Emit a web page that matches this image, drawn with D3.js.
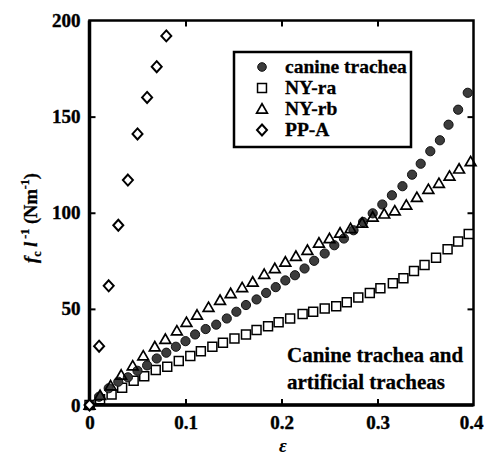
<!DOCTYPE html>
<html><head><meta charset="utf-8">
<script src="https://cdn.jsdelivr.net/npm/d3@7"></script>
<style>
html,body{margin:0;padding:0;background:#fff;}
svg text{font-family:"Liberation Serif","Times New Roman",serif;font-weight:bold;}
</style></head>
<body><svg id="c" width="484" height="458"></svg>
<script>
// ---- data ----
const canineEps = [0,0.01,0.02,0.03,0.04,0.05,0.06,0.07,0.08,0.09,0.10,0.11,0.121,0.132,0.143,0.153,0.163,0.174,0.184,0.194,0.204,0.214,0.224,0.234,0.245,0.255,0.265,0.275,0.285,0.295,0.305,0.315,0.326,0.336,0.345,0.355,0.365,0.374,0.384,0.394];
const canineVal = [0,4.3,8.7,12.1,14.4,17.8,20.6,24.2,27.2,30.3,33.2,36.7,39.5,41.8,45,48.5,52,54.9,58.3,61.3,64.8,67.5,71,75,78.8,83.1,86.6,90.9,95.2,99.7,104.3,109.1,113.8,119.8,125.5,132,137.7,145.8,153.6,162.4];
const nyraEps = [0,0.011,0.023,0.034,0.046,0.057,0.069,0.081,0.093,0.105,0.116,0.128,0.139,0.151,0.163,0.174,0.186,0.197,0.209,0.222,0.233,0.245,0.257,0.268,0.280,0.292,0.303,0.316,0.327,0.338,0.349,0.361,0.373,0.384,0.395];
const nyraVal = [0,3,5.5,9,12.6,15,18.2,19.9,22.9,25.5,28,30.3,32.4,34.6,36.7,39,41,43,45,47.3,48.5,50.2,51.4,53.4,55.9,58.3,60.7,63.3,65.9,69.7,72.8,76.6,81,85,88.9];
const nyrbEps = [0,0.011,0.022,0.033,0.045,0.056,0.068,0.079,0.091,0.101,0.112,0.124,0.136,0.147,0.159,0.170,0.182,0.193,0.204,0.215,0.227,0.239,0.250,0.261,0.272,0.284,0.295,0.307,0.318,0.330,0.341,0.353,0.364,0.375,0.385,0.397];
const nyrbVal = [0,5,10,15.6,20.4,25.6,30.3,34.2,38.6,43,46.8,50.8,54.5,58,61.1,64,68,71,74.4,77.4,80.5,84.3,86.6,89.5,91.8,94.7,97.8,99.4,101,104,108,112.2,115.3,119.1,122.8,126.6];
const ppaEps = [0,0.01,0.02,0.03,0.04,0.05,0.06,0.07,0.08];
const ppaVal = [0,30.6,62,93.5,117,141,160,176,192];
const legendLabels = ["canine trachea","NY-ra","NY-rb","PP-A"];
const xTicks = [0,0.1,0.2,0.3,0.4];
const xTickLabels = ["0","0.1","0.2","0.3","0.4"];
const yTicks = [0,50,100,150,200];

// ---- layout ----
const svg = d3.select("#c");
const L=89.5, R=473.5, T=20.5, B=405;
const x = d3.scaleLinear().domain([0,0.4]).range([L,R]);
const y = d3.scaleLinear().domain([0,200]).range([B,T]);

// frame
svg.append("rect").attr("x",L).attr("y",T).attr("width",R-L).attr("height",B-T)
  .attr("fill","none").attr("stroke","#000").attr("stroke-width",2.5);
svg.append("line").attr("x1",L).attr("x2",L).attr("y1",T).attr("y2",B).attr("stroke","#000").attr("stroke-width",3.5);
svg.append("line").attr("x1",L).attr("x2",R).attr("y1",B).attr("y2",B).attr("stroke","#000").attr("stroke-width",3.5);

// axes via d3
const xAxisB = d3.axisBottom(x).tickValues(xTicks).tickFormat((d,i)=>xTickLabels[i]).tickSizeInner(-6).tickSizeOuter(0).tickPadding(11);
const gx = svg.append("g").attr("transform",`translate(0,${B})`).call(xAxisB);
const xAxisT = d3.axisTop(x).tickValues([0.1,0.2,0.3]).tickFormat("").tickSizeInner(-6).tickSizeOuter(0);
const gxt = svg.append("g").attr("transform",`translate(0,${T})`).call(xAxisT);
const yAxisL = d3.axisLeft(y).tickValues(yTicks).tickFormat(d3.format("d")).tickSizeInner(-6).tickSizeOuter(0).tickPadding(9);
const gy = svg.append("g").attr("transform",`translate(${L},0)`).call(yAxisL);
const yAxisR = d3.axisRight(y).tickValues([50,100,150]).tickFormat("").tickSizeInner(-6).tickSizeOuter(0);
const gyr = svg.append("g").attr("transform",`translate(${R},0)`).call(yAxisR);
[gx,gxt,gy,gyr].forEach(g=>{
  g.select(".domain").remove();
  g.selectAll(".tick line").attr("stroke","#000").attr("stroke-width",2);
  g.selectAll(".tick text").attr("font-size",19).attr("font-family","'Liberation Serif',serif").attr("font-weight","bold").attr("fill","#000")
    .attr("stroke","#000").attr("stroke-width",0.4);
});
gx.selectAll(".tick").filter(d=>d===0||d===0.4).select("line").remove();
gx.selectAll(".tick").filter(d=>d===0.4).select("text").attr("text-anchor","end").attr("x",9.5);
gy.selectAll(".tick").filter(d=>d===0||d===200).select("line").remove();

// axis titles
svg.append("text").attr("x",283).attr("y",452).attr("text-anchor","middle")
  .attr("font-size",19).attr("font-style","italic").text("ε");
const yt = svg.append("text").attr("transform","translate(37,218) rotate(-90)").attr("text-anchor","middle").attr("font-size",18.5)
  .attr("stroke","#000").attr("stroke-width",0.3);
yt.append("tspan").attr("font-style","italic").text("f");
yt.append("tspan").attr("font-size",12).attr("dy",4).text("c");
yt.append("tspan").attr("dy",-4).text(" ");
yt.append("tspan").attr("font-style","italic").text("l");
yt.append("tspan").attr("font-size",12).attr("dy",-8).text(" -1");
yt.append("tspan").attr("dy",8).text(" (Nm");
yt.append("tspan").attr("font-size",12).attr("dy",-8).text("-1");
yt.append("tspan").attr("dy",8).text(")");

// markers
const sq = d3.symbol().type(d3.symbolSquare).size(80);
const tri = d3.symbol().type(d3.symbolTriangle).size(50);
const diaPath = "M0,-5.5L5,0L0,5.5L-5,0Z";
const plot = svg.append("g");
function pts(e,v){return e.map((d,i)=>[d,v[i]]);}
plot.selectAll("path.sq").data(pts(nyraEps,nyraVal)).join("path").attr("class","sq")
  .attr("d",sq).attr("transform",d=>`translate(${x(d[0])},${y(d[1])})`)
  .attr("fill","#fff").attr("stroke","#000").attr("stroke-width",1.5);
plot.selectAll("circle.cn").data(pts(canineEps,canineVal)).join("circle").attr("class","cn")
  .attr("cx",d=>x(d[0])).attr("cy",d=>y(d[1])).attr("r",4.6)
  .attr("fill","#3c3c3c").attr("stroke","#111").attr("stroke-width",1);
plot.selectAll("path.tr").data(pts(nyrbEps,nyrbVal)).join("path").attr("class","tr")
  .attr("d",tri).attr("transform",d=>`translate(${x(d[0])},${y(d[1])+1})`)
  .attr("fill","none").attr("stroke","#000").attr("stroke-width",1.7);
plot.selectAll("path.dm").data(pts(ppaEps,ppaVal)).join("path").attr("class","dm")
  .attr("d",diaPath).attr("transform",d=>`translate(${x(d[0])},${y(d[1])})`)
  .attr("fill","#fff").attr("stroke","#000").attr("stroke-width",2);

// legend
const lg = svg.append("g");
lg.append("rect").attr("x",234).attr("y",52).attr("width",177).attr("height",95)
  .attr("fill","#fff").attr("stroke","#000").attr("stroke-width",2.5);
const rowsY=[67,88,109,130];
legendLabels.forEach((t,i)=>{
  const cy=rowsY[i], cx=262;
  if(i===0) lg.append("circle").attr("cx",cx).attr("cy",cy).attr("r",4.3).attr("fill","#3c3c3c").attr("stroke","#111");
  if(i===1) lg.append("path").attr("d",sq).attr("transform",`translate(${cx},${cy})`).attr("fill","#fff").attr("stroke","#000").attr("stroke-width",1.5);
  if(i===2) lg.append("path").attr("d",tri).attr("transform",`translate(${cx},${cy+1})`).attr("fill","none").attr("stroke","#000").attr("stroke-width",1.7);
  if(i===3) lg.append("path").attr("d",diaPath).attr("transform",`translate(${cx},${cy})`).attr("fill","#fff").attr("stroke","#000").attr("stroke-width",2);
  lg.append("text").attr("x",285).attr("y",cy+6).attr("font-size",19.5).attr("stroke","#000").attr("stroke-width",0.3).text(t);
});

// annotation
svg.append("text").attr("x",287).attr("y",362).attr("font-size",21).attr("stroke","#000").attr("stroke-width",0.3).text("Canine trachea and");
svg.append("text").attr("x",287).attr("y",389).attr("font-size",21).attr("stroke","#000").attr("stroke-width",0.3).text("artificial tracheas");
</script></body></html>
